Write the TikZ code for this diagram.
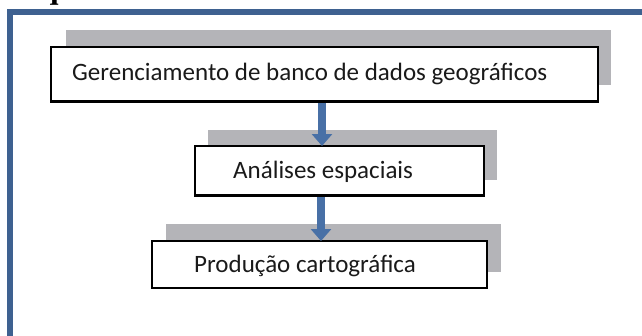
\documentclass[tikz,border=0pt]{standalone}
\usepackage{fontspec}
\setmainfont{Carlito}
\newfontfamily\headfont{Liberation Serif}
\usetikzlibrary{arrows.meta}
\definecolor{frameblue}{HTML}{3E6190}
\definecolor{arrowblue}{HTML}{4870A6}
\definecolor{shadowgray}{HTML}{B4B4B8}
\definecolor{txt}{HTML}{1A1A1A}
\tikzset{
  shadowbox/.style={rectangle, fill=shadowgray, draw=none, anchor=north west, inner sep=0pt},
  whitebox/.style={rectangle, fill=white, draw=black, line width=1.8pt, anchor=north west, inner sep=0pt},
  boxtext/.style={anchor=base west, inner sep=0pt, text=txt, font=\fontsize{25}{29}\selectfont},
  flowarrow/.style={draw=arrowblue, line width=8pt, -{Triangle[width=20pt,length=12pt]}, shorten >=-1pt}
}
\begin{document}
\begin{tikzpicture}[x=1pt,y=-1pt]
\useasboundingbox (0,0) rectangle (642,335);
\fill[white] (0,0) rectangle (642,335);
% cropped heading
\node[anchor=base west, inner sep=0pt, font=\headfont\bfseries\fontsize{32}{36}\selectfont, text=black] (head) at (7,-1.5) {Esquema};
% frame
\draw[frameblue, line width=6pt] (10,12) rectangle (700,400);
% shadows
\node[shadowbox, minimum width=545pt, minimum height=55pt] (g1) at (66,30) {};
\node[shadowbox, minimum width=289pt, minimum height=50pt] (g2) at (208,130) {};
\node[shadowbox, minimum width=335pt, minimum height=48pt] (g3) at (166,224) {};
% white boxes
\node[whitebox, minimum width=547pt, minimum height=54pt] (b1) at (50,46) {};
\node[whitebox, minimum width=289pt, minimum height=49pt] (b2) at (194,145) {};
\node[whitebox, minimum width=335pt, minimum height=47pt] (b3) at (151,240) {};
% arrow axes
\coordinate (ax1) at (322,0);
\coordinate (ax2) at (321,0);
\draw[flowarrow] (b1.south -| ax1) -- (b2.north -| ax1);
\draw[flowarrow] (b2.south -| ax2) -- (b3.north -| ax2);
% redraw box borders over arrow shaft starts
\draw[black, line width=1.8pt] (b1.south west) -- (b1.south east);
\draw[black, line width=1.8pt] (b2.south west) -- (b2.south east);
% texts
\node[boxtext] (t1) at (72,80) {Gerenciamento de banco de dados geográficos};
\node[boxtext] (t2) at (233,178) {Análises espaciais};
\node[boxtext] (t3) at (194,272) {Produção cartográfica};
\end{tikzpicture}
\end{document}
